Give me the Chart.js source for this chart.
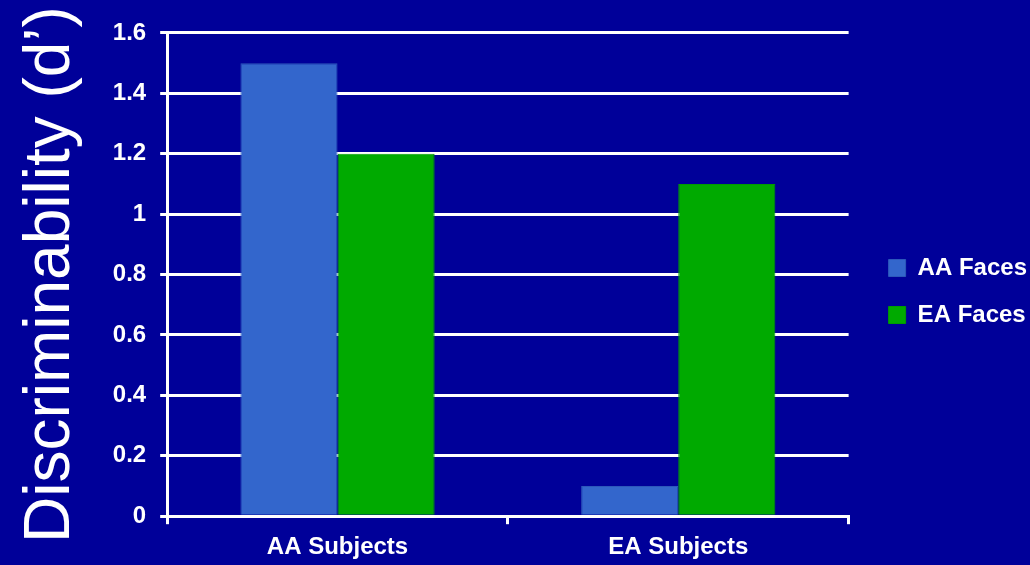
<!DOCTYPE html>
<html>
<head>
<meta charset="utf-8">
<title>Discriminability</title>
<script src="https://cdn.jsdelivr.net/npm/chart.js@4"></script>
<style>
    html, body { margin: 0; padding: 0; background: #000099; }
    #wrap { width: 1030px; height: 565px; }
</style>
</head>
<body>
<div id="wrap"><canvas id="chart"></canvas></div>
<script>
// Dati
const groups = ['AA Subjects', 'EA Subjects'];
const seriesNames = ['AA Faces', 'EA Faces'];
const aaFaces = [1.5, 0.1];
const eaFaces = [1.2, 1.1];
const seriesColors = ['#3366cc', '#00aa00'];
const seriesBorders = ['#2c58bb', '#009c00'];

const font = 'Liberation Sans, Arial, sans-serif';

// sfondo blu su tutto il canvas
const background = {
    id: 'background',
    beforeDraw(chart) {
        const ctx = chart.ctx;
        ctx.save();
        ctx.fillStyle = '#000099';
        ctx.fillRect(0, 0, chart.width, chart.height);
        ctx.restore();
    }
};

new Chart(document.getElementById('chart'), {
    type: 'bar',
    data: {
        labels: groups,
        datasets: seriesNames.map((name, i) => ({
            label: name,
            data: i === 0 ? aaFaces : eaFaces,
            backgroundColor: seriesColors[i],
            borderColor: seriesBorders[i],
            borderWidth: 1,
            yAxisID: 'y'
        }))
    },
    options: {
        responsive: true,
        maintainAspectRatio: false,
        animation: false,
        layout: { padding: { top: 12, right: -7, bottom: -6, left: 0 } },
        datasets: {
            bar: { categoryPercentage: 0.57, barPercentage: 1.0 }
        },
        plugins: {
            legend: {
                position: 'right',
                padding: 3,
                labels: {
                    color: '#ffffff',
                    boxWidth: 17,
                    boxHeight: 17,
                    padding: 23,
                    font: { family: font, size: 24, weight: 'bold' }
                }
            },
            tooltip: { enabled: false }
        },
        scales: {
            x: {
                grid: {
                    offset: true,
                    drawOnChartArea: false,
                    color: '#ffffff',
                    lineWidth: 3,
                    tickLength: 8
                },
                border: { color: '#ffffff', width: 3 },
                ticks: {
                    color: '#ffffff',
                    padding: 9,
                    font: { family: font, size: 24, weight: 'bold' }
                }
            },
            y: {
                min: 0,
                max: 1.6,
                ticks: {
                    stepSize: 0.2,
                    color: '#ffffff',
                    padding: 14,
                    font: { family: font, size: 24, weight: 'bold', lineHeight: 1.58 },
                    callback: v => String(Number(v.toFixed(1)))
                },
                grid: {
                    color: '#ffffff',
                    lineWidth: 3,
                    tickLength: 7
                },
                border: { color: '#ffffff', width: 3 },
                title: {
                    display: true,
                    text: 'Discriminability (d’)',
                    color: '#ffffff',
                    padding: { top: 13, bottom: 9 },
                    font: { family: font, size: 64, weight: 'normal', lineHeight: 1.2 }
                }
            },
            // asse vuoto a destra: solo spazio tra il grafico e la legenda
            gap: {
                position: 'right',
                grid: { display: false },
                border: { display: false },
                ticks: { display: false },
                afterFit: scale => { scale.width = 17; }
            }
        }
    },
    plugins: [background]
});
</script>
</body>
</html>
